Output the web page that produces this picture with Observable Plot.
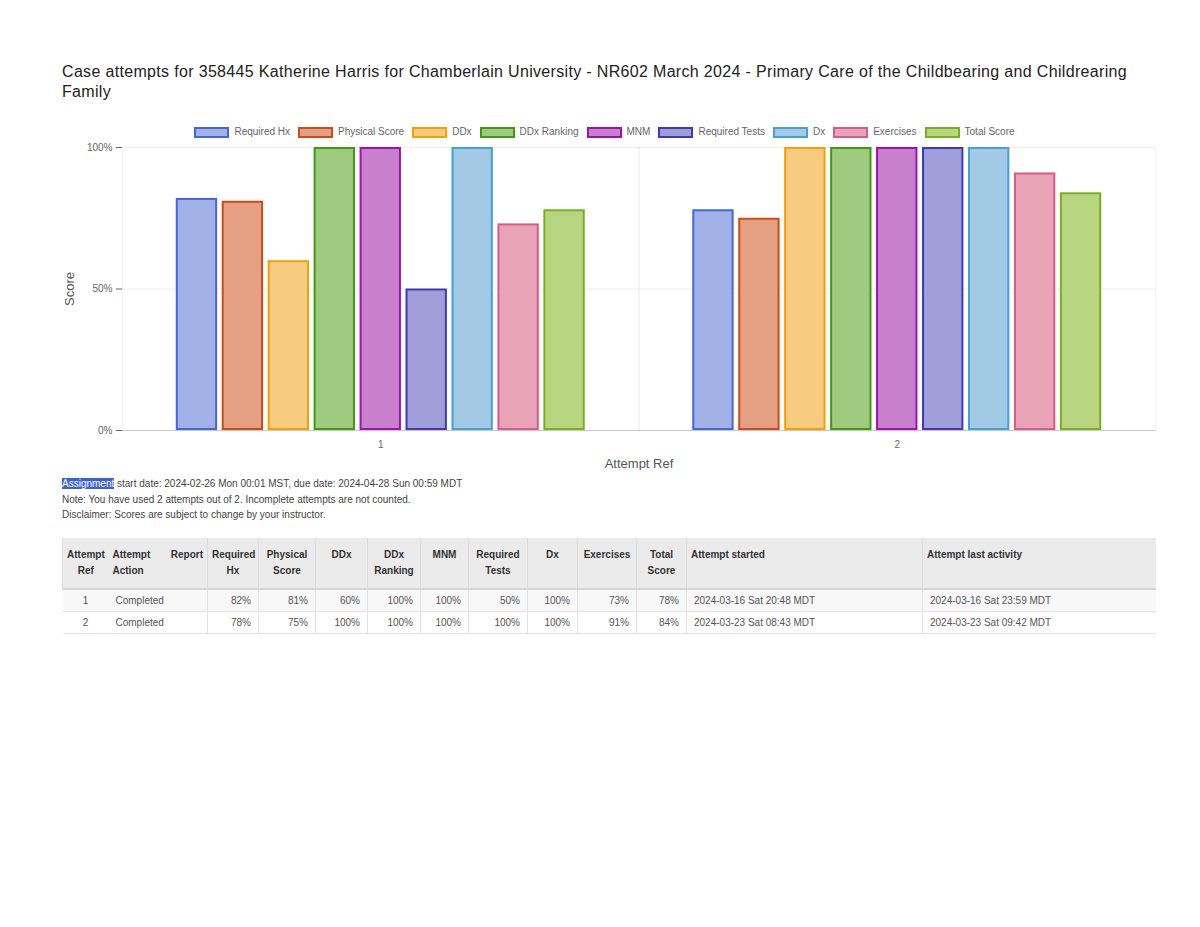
<!DOCTYPE html>
<html>
<head>
<meta charset="utf-8">
<script src="https://cdn.jsdelivr.net/npm/d3@7"></script>
<script src="https://cdn.jsdelivr.net/npm/@observablehq/plot@0.6"></script>
<style>
  body { margin: 0; background: #fff; font-family: "Liberation Sans", Arial, sans-serif; color: #333; }
  #wrap { position: relative; width: 1200px; height: 927px; }
  #title { position: absolute; left: 62px; top: 62px; width: 1092px; font-size: 16px; letter-spacing: 0.33px; line-height: 20px; color: #222; }
  #legend { position: absolute; left: 62px; top: 126px; width: 1093px; display: flex; justify-content: center; font-size: 10px; color: #666; line-height: 12px; }
  .li { display: flex; align-items: center; margin-right: 8px; }
  .sw { width: 31px; height: 7px; border: 2px solid; margin-right: 5px; }
  #chart { position: absolute; left: 0; top: 140px; }
  #notes { position: absolute; left: 62px; top: 476px; font-size: 10px; line-height: 15.5px; color: #444; }
  #notes .hl { background: #3f5fd9; color: #fff; }
  #tbl { position: absolute; left: 62px; top: 538px; width: 1093px; border-collapse: collapse; font-size: 10px; color: #333; table-layout: fixed; }
  #tbl th { background: #ebebeb; font-weight: bold; vertical-align: top; padding: 9px 4px 0 4px; height: 41px; line-height: 16px; border-left: 1px solid #dcdcdc; border-bottom: 2px solid #d6d6d6; text-align: center; }
  #tbl td { height: 21px; padding: 0 7px; border-left: 1px solid #e2e2e2; border-bottom: 1px solid #e2e2e2; text-align: right; color: #555; }
  #tbl tr.r1 td { background: #f8f8f8; }
  #tbl th.l, #tbl td.l { text-align: left; }
  #tbl th.r { text-align: right; }
  #tbl td.c { text-align: center; }
  #tbl th.nb, #tbl td.nb { border-left: none; }
</style>
</head>
<body>
<div id="wrap">
  <div id="title">Case attempts for 358445 Katherine Harris for Chamberlain University - NR602 March 2024 - Primary Care of the Childbearing and Childrearing Family</div>
  <div id="legend"></div>
  <div id="chart"></div>
  <div id="notes">
    <div><span class="hl">Assignment</span> start date: 2024-02-26 Mon 00:01 MST, due date: 2024-04-28 Sun 00:59 MDT</div>
    <div>Note: You have used 2 attempts out of 2. Incomplete attempts are not counted.</div>
    <div>Disclaimer: Scores are subject to change by your instructor.</div>
  </div>
  <table id="tbl"></table>
</div>
<script>
const attempts = ["1", "2"];
const series = ["Required Hx", "Physical Score", "DDx", "DDx Ranking", "MNM", "Required Tests", "Dx", "Exercises", "Total Score"];
const fillColors = ["#a2b1e8", "#e5a083", "#f7cc80", "#a0ca80", "#c880cc", "#a09ed8", "#a2cae4", "#e8a3b9", "#b8d680"];
const strokeColors = ["#4466dd", "#d04a15", "#f5a000", "#3f9a10", "#a010b0", "#4038b8", "#45a0d8", "#d85a88", "#78b020"];
const attempt1Scores = [82, 81, 60, 100, 100, 50, 100, 73, 78];
const attempt2Scores = [78, 75, 100, 100, 100, 100, 100, 91, 84];
const yTicks = [0, 50, 100];
const attemptActions = ["Completed", "Completed"];
const attemptStarted = ["2024-03-16 Sat 20:48 MDT", "2024-03-23 Sat 08:43 MDT"];
const attemptLast = ["2024-03-16 Sat 23:59 MDT", "2024-03-23 Sat 09:42 MDT"];

const scoresByAttempt = [attempt1Scores, attempt2Scores];
const data = [];
attempts.forEach((a, i) => series.forEach((s, j) => data.push({
  attempt: a, series: s, value: scoresByAttempt[i][j], fill: fillColors[j], stroke: strokeColors[j]
})));

// legend
const legend = document.getElementById("legend");
series.forEach((s, j) => {
  const li = document.createElement("div"); li.className = "li";
  const sw = document.createElement("span"); sw.className = "sw";
  sw.style.background = fillColors[j]; sw.style.borderColor = strokeColors[j];
  const t = document.createElement("span"); t.textContent = s;
  li.appendChild(sw); li.appendChild(t); legend.appendChild(li);
});

const chart = Plot.plot({
  width: 1200,
  height: 330,
  marginLeft: 122,
  marginRight: 45,
  marginTop: 7,
  marginBottom: 40,
  style: {color: "#666", fontFamily: "Liberation Sans, Arial, sans-serif", fontSize: "10px", background: "transparent"},
  fx: {domain: attempts, padding: 0, round: false, label: "Attempt Ref", labelAnchor: "center", labelOffset: 37, tickSize: 0, tickPadding: 10},
  x: {domain: series, paddingInner: 0.1, paddingOuter: 1.17, round: false, axis: null},
  y: {domain: [0, 100], ticks: yTicks, tickFormat: d => d + "%", label: "Score", labelAnchor: "center", labelArrow: "none", labelOffset: 58, tickSize: 6, tickPadding: 4},
  marks: [
    Plot.gridY(yTicks, {stroke: "#000", strokeOpacity: 0.07}),
    Plot.frame({anchor: "left", stroke: "#000", strokeOpacity: 0.05}),
    Plot.frame({anchor: "right", stroke: "#000", strokeOpacity: 0.05}),
    Plot.barY(data, {fx: "attempt", x: "series", y: "value", fill: "fill", stroke: "stroke", strokeWidth: 2, inset: 1}),
    Plot.ruleY([0], {stroke: "#000", strokeOpacity: 0.15})
  ]
});
d3.select(chart).selectAll('[aria-label$="axis label"]').attr("font-size", 13).attr("fill", "#555");
d3.select(chart).selectAll('[aria-label="y-axis tick"]').attr("stroke", "#ddd");
document.getElementById("chart").appendChild(chart);

// table
const headers = [
  ["Attempt<br>Ref", 46, ""], ["Attempt<br>Action", 57, "l nb"], ["Report", 42, "r nb"],
  ["Required<br>Hx", 51, ""], ["Physical<br>Score", 57, ""], ["DDx", 52, ""], ["DDx<br>Ranking", 53, ""],
  ["MNM", 48, ""], ["Required<br>Tests", 59, ""], ["Dx", 50, ""], ["Exercises", 59, ""], ["Total<br>Score", 50, ""],
  ["Attempt started", 236, "l"], ["Attempt last activity", 233, "l"]
];
const tbl = document.getElementById("tbl");
let html = "<colgroup>" + headers.map(h => `<col style="width:${h[1]}px">`).join("") + "</colgroup>";
html += "<tr>" + headers.map(h => `<th class="${h[2]}">${h[0]}</th>`).join("") + "</tr>";
attempts.forEach((a, i) => {
  html += `<tr class="r${i + 1}"><td class="c nb">${a}</td><td class="l nb">${attemptActions[i]}</td><td class="nb"></td>`;
  html += scoresByAttempt[i].map(v => `<td>${v}%</td>`).join("");
  html += `<td class="l">${attemptStarted[i]}</td><td class="l">${attemptLast[i]}</td></tr>`;
});
tbl.innerHTML = html;
</script>
</body>
</html>
